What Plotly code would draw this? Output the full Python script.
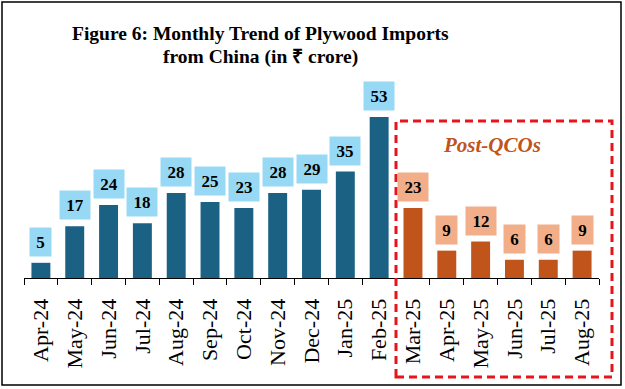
import plotly.graph_objects as go

months = ["Apr-24", "May-24", "Jun-24", "Jul-24", "Aug-24", "Sep-24", "Oct-24",
          "Nov-24", "Dec-24", "Jan-25", "Feb-25",
          "Mar-25", "Apr-25", "May-25", "Jun-25", "Jul-25", "Aug-25"]
values = [5, 17, 24, 18, 28, 25, 23, 28, 29, 35, 53,
          23, 9, 12, 6, 6, 9]
n_pre = 11  # months before QCOs

BLUE = "#1B6184"
ORANGE = "#C0541A"
LBL_BLUE = "#97D9F5"
LBL_ORANGE = "#F2AE88"
SERIF = "Liberation Serif, Times New Roman, serif"

W, H = 625, 389
L, R, T, B = 24, 26, 100, 111
PW, PH = W - L - R, H - T - B


def px(x):
    return (x - L) / PW


def py(y):
    return (H - B - y) / PH


colors = [BLUE] * n_pre + [ORANGE] * (len(months) - n_pre)

fig = go.Figure()
fig.add_trace(go.Bar(
    x=months, y=values, marker=dict(color=colors, line=dict(width=0)),
    width=0.56, hoverinfo="x+y"))

for i, (m, v) in enumerate(zip(months, values)):
    txt = str(v)
    fig.add_annotation(
        x=m, y=v, xref="x", yref="y", text="<b>%s</b>" % txt,
        showarrow=False, yanchor="bottom", yshift=6,
        width=21 if len(txt) == 1 else 30, height=28, borderpad=0,
        bgcolor=LBL_BLUE if i < n_pre else LBL_ORANGE,
        font=dict(family=SERIF, size=17, color="black"))

# title (two lines)
fig.add_annotation(x=px(260), y=py(33), xref="paper", yref="paper",
                   text="<b>Figure 6: Monthly Trend of Plywood Imports</b>",
                   showarrow=False, xanchor="center", yanchor="middle",
                   font=dict(family=SERIF, size=19.5, color="black"))
fig.add_annotation(x=px(260), y=py(57), xref="paper", yref="paper",
                   text="<b>from China (in ₹ crore)</b>",
                   showarrow=False, xanchor="center", yanchor="middle",
                   font=dict(family=SERIF, size=19.5, color="black"))

fig.add_annotation(
    x=px(492), y=py(145), xref="paper", yref="paper",
    text="<b><i>Post-QCOs</i></b>", showarrow=False,
    xanchor="center", yanchor="middle",
    font=dict(family=SERIF, size=21, color=ORANGE))

# dashed box around post-QCO period
fig.add_shape(type="rect", xref="paper", yref="paper",
              x0=px(396), x1=px(612), y0=py(377), y1=py(121),
              line=dict(color="#E8141B", width=3, dash="8px,5px"))

# outer border
fig.add_shape(type="rect", xref="paper", yref="paper",
              x0=px(2), x1=px(621), y0=py(385), y1=py(2),
              line=dict(color="black", width=1.5))

fig.update_layout(
    width=W, height=H,
    margin=dict(l=L, r=R, t=T, b=B, autoexpand=False),
    paper_bgcolor="white", plot_bgcolor="white",
    showlegend=False,
    xaxis=dict(type="category", showline=True, linecolor="black", linewidth=1,
               ticks="outside", tickson="boundaries", ticklen=6, tickcolor="black",
               tickangle=-90, tickfont=dict(family=SERIF, size=22, color="black"),
               ticklabelstandoff=11, showgrid=False, automargin=False),
    yaxis=dict(range=[0, PH / 3.04], visible=False, showgrid=False),
)

fig.write_html("out.html", config={"displayModeBar": False},
               post_script="document.body.style.margin='0';document.body.style.overflow='hidden';")
